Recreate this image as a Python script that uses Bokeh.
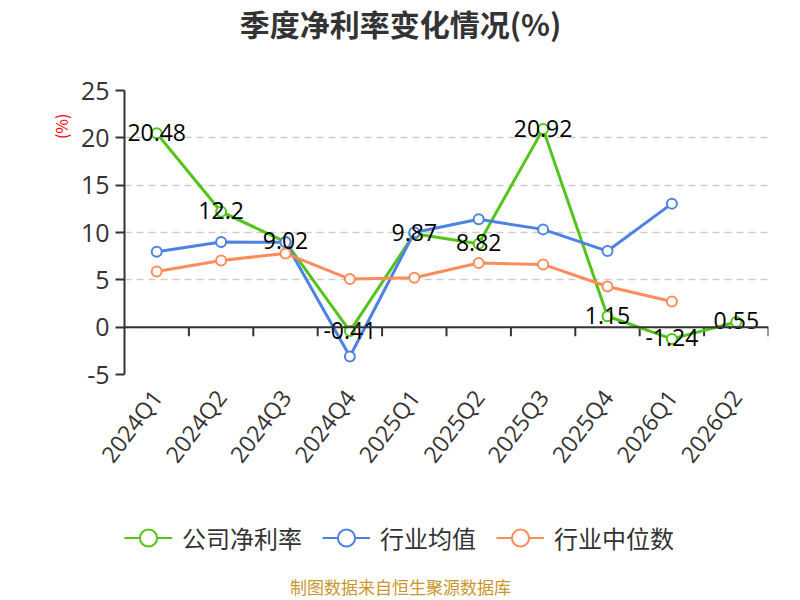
import math
from bokeh.plotting import figure
from bokeh.layouts import column
from bokeh.models import (ColumnDataSource, FixedTicker, Span, Legend, LegendItem, Title, Label)
from bokeh.core.properties import value
from bokeh.embed import file_html
from bokeh.resources import INLINE

quarters = ["2024Q1", "2024Q2", "2024Q3", "2024Q4", "2025Q1", "2025Q2",
            "2025Q3", "2025Q4", "2026Q1", "2026Q2"]
company = [20.48, 12.2, 9.02, -0.41, 9.87, 8.82, 20.92, 1.15, -1.24, 0.55]
ind_mean = [7.97, 9.0, 8.96, -3.1, 10.0, 11.39, 10.33, 8.04, 13.05, float("nan")]
ind_median = [5.89, 7.05, 7.79, 5.08, 5.22, 6.77, 6.63, 4.3, 2.72, float("nan")]
company_labels = ["20.48", "12.2", "9.02", "-0.41", "9.87", "8.82", "20.92", "1.15", "-1.24", "0.55"]
y_ticks = [-5, 0, 5, 10, 15, 20, 25]
series_names = ["公司净利率", "行业均值", "行业中位数"]
chart_title = "季度净利率变化情况(%)"
footer_text = "制图数据来自恒生聚源数据库"

GREEN = "#52c41a"
BLUE = "#4e82e2"
ORANGE = "#ff8c5a"
NUM_FONT = "Open Sans"
CJK_FONT = "Noto Sans CJK SC"


def blank(height):
    fig = figure(width=800, height=height, x_range=(0, 1), y_range=(0, 1),
                 output_backend="svg", toolbar_location=None, min_border=0,
                 x_axis_location=None, y_axis_location=None)
    fig.outline_line_color = None
    fig.xgrid.grid_line_color = None
    fig.ygrid.grid_line_color = None
    return fig


# ---- title strip ----
t = blank(45)
t.add_layout(Label(x=276, y=23, x_units="screen", y_units="screen",
                   text=chart_title, text_font=CJK_FONT,
                   text_font_size="30px", text_font_style="bold",
                   text_color="#333333", text_align="center", text_baseline="middle"))

# ---- main chart ----
src = ColumnDataSource(dict(q=quarters, company=company, mean=ind_mean,
                            median=ind_median, lab=company_labels))

p = figure(width=800, height=445, x_range=quarters, y_range=(-5, 25),
           output_backend="svg", toolbar_location=None,
           min_border_left=124, min_border_right=32,
           min_border_top=45, min_border_bottom=116)
p.x_range.range_padding = 0
p.outline_line_color = None

p.xgrid.grid_line_color = None
p.ygrid.grid_line_color = "#cccccc"
p.ygrid.grid_line_dash = "7 5"
p.ygrid.grid_line_width = 1.5
p.yaxis.ticker = FixedTicker(ticks=y_ticks)
p.yaxis.major_label_overrides = {t_: str(t_) for t_ in y_ticks}

p.yaxis.axis_line_color = "#333333"
p.yaxis.axis_line_width = 2
p.yaxis.major_tick_line_color = "#333333"
p.yaxis.major_tick_line_width = 2
p.yaxis.major_tick_out = 9
p.yaxis.major_tick_in = 0
p.yaxis.minor_tick_line_color = None
p.yaxis.major_label_text_font = NUM_FONT
p.yaxis.major_label_text_font_size = "25px"
p.yaxis.major_label_text_color = "#333333"
p.yaxis.major_label_standoff = 6

p.add_layout(Title(text="(%)", align="right", offset=23, text_color="red",
                   text_font=CJK_FONT, text_font_size="16px",
                   text_font_style="normal"), "left")

p.xaxis.axis_line_color = None
p.xaxis.major_tick_line_color = None
p.xaxis.minor_tick_line_color = None
p.xaxis.major_label_orientation = 0.92
p.xaxis.major_label_text_font = NUM_FONT
p.xaxis.major_label_text_font_size = "23px"
p.xaxis.major_label_text_color = "#333333"
p.xaxis.major_label_standoff = 12

# zero line acting as category axis
p.add_layout(Span(location=0, dimension="width", line_color="#333333", line_width=2))
bounds = list(range(1, len(quarters) + 1))
p.segment(x0=bounds, x1=bounds, y0=[0] * len(bounds), y1=[-0.95] * len(bounds),
          line_color="#333333", line_width=2)

p.line("q", "company", source=src, line_color=GREEN, line_width=3)
p.scatter("q", "company", source=src, size=10, fill_color="white",
          line_color=GREEN, line_width=2)
p.line("q", "mean", source=src, line_color=BLUE, line_width=3)
p.scatter("q", "mean", source=src, size=10, fill_color="white",
          line_color=BLUE, line_width=2)
p.line("q", "median", source=src, line_color=ORANGE, line_width=3)
p.scatter("q", "median", source=src, size=10, fill_color="white",
          line_color=ORANGE, line_width=2)

p.text("q", "company", text="lab", source=src, text_align="center",
       text_baseline="middle", y_offset=-1, text_font=value(NUM_FONT),
       text_font_size="23px", text_color="black")

# ---- legend + footer strip ----
f = blank(110)
items = []
for name, col in zip(series_names, [GREEN, BLUE, ORANGE]):
    r1 = f.line(x=[float("nan")], y=[float("nan")], line_color=col, line_width=2)
    r2 = f.scatter(x=[float("nan")], y=[float("nan")], fill_color="white",
                   line_color=col, line_width=2)
    items.append(LegendItem(label=name, renderers=[r1, r2]))

legend = Legend(items=items, orientation="horizontal", location=(0, 41),
                glyph_width=48, glyph_height=43, label_standoff=10, spacing=20,
                padding=0, margin=0, border_line_color=None,
                background_fill_alpha=0,
                label_text_font=CJK_FONT, label_text_font_size="24px",
                label_text_color="#333333", label_text_baseline="middle")
f.add_layout(legend, "center")

f.add_layout(Label(x=276, y=14, x_units="screen", y_units="screen",
                   text=footer_text, text_font=CJK_FONT,
                   text_font_size="17px", text_color="#c9962b",
                   text_align="center", text_baseline="middle"))

open("out.html", "w").write(file_html(column(t, p, f), INLINE))
